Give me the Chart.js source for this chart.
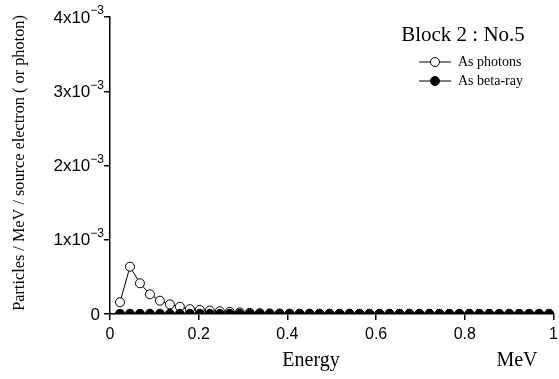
<!DOCTYPE html>
<html>
<head>
<meta charset="utf-8">
<script src="https://cdn.jsdelivr.net/npm/chart.js@4/dist/chart.umd.min.js"></script>
<style>
  html, body { margin: 0; padding: 0; background: #fff; }
  #wrap { width: 559px; height: 379px; position: relative; }
</style>
</head>
<body>
<div id="wrap"><canvas id="c" width="559" height="379"></canvas></div>
<script>
// Energy bins (MeV)
const energies = [
  0.0225, 0.045, 0.0675, 0.09, 0.1125, 0.135, 0.1575, 0.18, 0.2025, 0.225,
  0.2475, 0.27, 0.2925, 0.315, 0.3375, 0.36, 0.3825, 0.405, 0.4275, 0.45,
  0.4725, 0.495, 0.5175, 0.54, 0.5625, 0.585, 0.6075, 0.63, 0.6525, 0.675,
  0.6975, 0.72, 0.7425, 0.765, 0.7875, 0.81, 0.8325, 0.855, 0.8775, 0.9,
  0.9225, 0.945, 0.9675, 0.99
];

// Particles / MeV / source electron, emitted as photons
const photons = [
  0.158e-3, 0.637e-3, 0.414e-3, 0.265e-3, 0.179e-3, 0.130e-3, 0.098e-3, 0.066e-3, 0.054e-3, 0.046e-3,
  0.037e-3, 0.029e-3, 0.022e-3, 0.016e-3, 0.011e-3, 0.008e-3, 0.006e-3, 0.005e-3, 0.004e-3, 0.004e-3,
  0.003e-3, 0.003e-3, 0.003e-3, 0.003e-3, 0.002e-3, 0.002e-3, 0.002e-3, 0.002e-3, 0.002e-3, 0.002e-3,
  0.002e-3, 0.002e-3, 0.001e-3, 0.001e-3, 0.001e-3, 0.001e-3, 0.001e-3, 0.001e-3, 0.001e-3, 0.001e-3,
  0.001e-3, 0.001e-3, 0.001e-3, 0.001e-3
];

// Particles / MeV / source electron, emitted as beta-rays
const betaRay = [
  0.003e-3, 0.003e-3, 0.003e-3, 0.003e-3, 0.003e-3, 0.002e-3, 0.002e-3, 0.002e-3, 0.002e-3, 0.002e-3,
  0.002e-3, 0.002e-3, 0.002e-3, 0.002e-3, 0.002e-3, 0.002e-3, 0.002e-3, 0.002e-3, 0.002e-3, 0.002e-3,
  0.002e-3, 0.002e-3, 0.002e-3, 0.002e-3, 0.002e-3, 0.002e-3, 0.002e-3, 0.002e-3, 0.002e-3, 0.002e-3,
  0.002e-3, 0.002e-3, 0.002e-3, 0.002e-3, 0.002e-3, 0.002e-3, 0.002e-3, 0.002e-3, 0.002e-3, 0.002e-3,
  0.002e-3, 0.002e-3, 0.002e-3, 0.002e-3
];

// Axis labelling
const yMantissas = [0, 1, 2, 3, 4];
const yExponent = '\u22123';
const seriesNames = ['As photons', 'As beta-ray'];
const chartTitle = 'Block 2 : No.5';
const xTitle = 'Energy';
const xUnit = 'MeV';
const yTitle = 'Particles / MeV / source electron ( or photon)';

const SANS = '"Liberation Sans", Arial, sans-serif';
const SERIF = '"Liberation Serif", "Times New Roman", serif';

const toPoints = (ys) => energies.map((x, i) => ({ x: x, y: ys[i] }));

// Draws y tick labels in "n x 10^-3" form, the title, the axis titles and the legend
const decorations = {
  id: 'decorations',
  afterDraw(chart) {
    const ctx = chart.ctx;
    const ys = chart.scales.y;
    ctx.save();
    ctx.fillStyle = '#000';
    ctx.strokeStyle = '#000';

    // y tick labels
    const supRight = 104;
    yMantissas.forEach((m) => {
      const py = ys.getPixelForValue(m * 1e-3);
      ctx.textBaseline = 'middle';
      ctx.textAlign = 'right';
      if (m === 0) {
        ctx.font = '17px ' + SANS;
        ctx.fillText('0', 100, py + 1);
        return;
      }
      ctx.font = '12px ' + SANS;
      const supW = ctx.measureText(yExponent).width;
      ctx.fillText(yExponent, supRight, py - 6);
      ctx.font = '17px ' + SANS;
      ctx.fillText(m + 'x10', supRight - supW, py + 1);
    });

    // chart title
    ctx.font = '21px ' + SERIF;
    ctx.textAlign = 'center';
    ctx.textBaseline = 'middle';
    ctx.fillText(chartTitle, 463, 35);

    // legend
    const entries = [
      { name: seriesNames[0], fill: '#fff', y: 62 },
      { name: seriesNames[1], fill: '#000', y: 81 }
    ];
    entries.forEach((e) => {
      ctx.lineWidth = 1;
      ctx.beginPath();
      ctx.moveTo(419, e.y);
      ctx.lineTo(451, e.y);
      ctx.stroke();
      ctx.beginPath();
      ctx.arc(435, e.y, 4.5, 0, Math.PI * 2);
      ctx.fillStyle = e.fill;
      ctx.fill();
      ctx.stroke();
      ctx.fillStyle = '#000';
      ctx.font = '14px ' + SERIF;
      ctx.textAlign = 'left';
      ctx.textBaseline = 'middle';
      ctx.fillText(e.name, 458, e.y);
    });

    // x axis title and unit
    ctx.font = '20px ' + SERIF;
    ctx.textAlign = 'center';
    ctx.textBaseline = 'middle';
    ctx.fillText(xTitle, 311, 361);
    ctx.fillText(xUnit, 517, 361);

    // y axis title
    ctx.translate(20, 163);
    ctx.rotate(-Math.PI / 2);
    ctx.font = '16.3px ' + SERIF;
    ctx.fillText(yTitle, 0, 0);
    ctx.restore();
  }
};

new Chart(document.getElementById('c'), {
  type: 'line',
  data: {
    datasets: [
      {
        label: seriesNames[1],
        data: toPoints(betaRay),
        borderColor: '#000',
        borderWidth: 1,
        backgroundColor: '#000',
        pointBackgroundColor: '#000',
        pointBorderColor: '#000',
        pointBorderWidth: 1,
        pointRadius: 4.5,
        clip: { left: 10, right: 10, top: 10, bottom: 0 }
      },
      {
        label: seriesNames[0],
        data: toPoints(photons),
        borderColor: '#000',
        borderWidth: 1,
        backgroundColor: '#fff',
        pointBackgroundColor: '#fff',
        pointBorderColor: '#000',
        pointBorderWidth: 1,
        pointRadius: 4.5,
        clip: { left: 10, right: 10, top: 10, bottom: 0 }
      }
    ]
  },
  options: {
    responsive: false,
    animation: false,
    events: [],
    layout: { padding: { left: 0, right: 3, top: 17, bottom: 0 } },
    plugins: { legend: { display: false }, tooltip: { enabled: false } },
    scales: {
      x: {
        type: 'linear',
        min: 0,
        max: 1,
        ticks: {
          stepSize: 0.2,
          color: '#000',
          font: { family: SANS, size: 16 },
          padding: 5,
          maxRotation: 0,
          callback: (v) => String(Math.round(v * 10) / 10)
        },
        grid: { drawOnChartArea: false, drawTicks: true, tickLength: 6, color: '#000', lineWidth: 1.5 },
        border: { display: true, color: '#000', width: 1.5 },
        afterFit(scale) {
          scale.height = 65;
          scale.paddingLeft = 0;
          scale.paddingRight = 0;
        }
      },
      y: {
        type: 'linear',
        min: 0,
        max: 4e-3,
        ticks: { stepSize: 1e-3, callback: () => '' },
        grid: { drawOnChartArea: false, drawTicks: true, tickLength: 6, color: '#000', lineWidth: 1.5 },
        border: { display: true, color: '#000', width: 1.5 },
        afterFit(scale) {
          scale.width = 110;
          scale.paddingTop = 0;
          scale.paddingBottom = 0;
        }
      }
    }
  },
  plugins: [decorations]
});
</script>
</body>
</html>
